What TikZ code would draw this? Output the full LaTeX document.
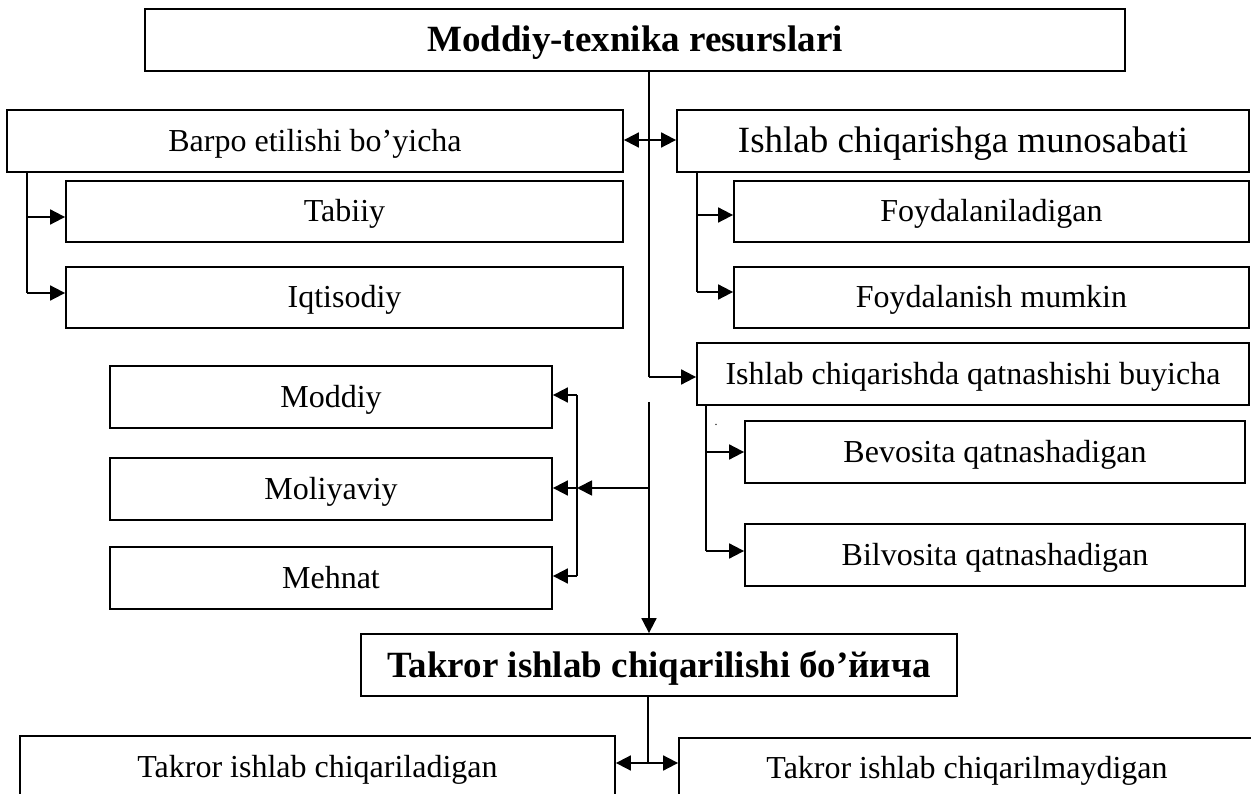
\documentclass[tikz,border=0pt]{standalone}
\usepackage{fontspec}
\setmainfont{Liberation Serif}
\usetikzlibrary{arrows.meta}
\tikzset{
  box/.style={draw, line width=1.8pt, rectangle, inner sep=0pt, text height=21pt, text depth=0pt, font=\fontsize{32}{38}\selectfont},
  bigbox/.style={box, text height=24pt, font=\fontsize{37}{44}\selectfont},
  boldbox/.style={box, text height=24pt, font=\fontsize{37}{44}\selectfont\bfseries},
  conn/.style={line width=1.8pt},
  arr/.style={line width=1.8pt, -{Triangle[length=15pt,width=15pt]}},
  arrtwo/.style={line width=1.8pt, {Triangle[length=15pt,width=15pt]}-{Triangle[length=15pt,width=15pt]}}
}
\begin{document}
\begin{tikzpicture}[x=1pt,y=-1pt]
\useasboundingbox (0,0) rectangle (1251,794);
\clip (0,0) rectangle (1251,794);
% boxes
\node[boldbox, minimum width=980pt, minimum height=62pt] (top) at (635,40) {Moddiy-texnika resurslari};
\node[box, minimum width=616pt, minimum height=62pt] (barpo) at (315,141) {Barpo etilishi bo’yicha};
\node[bigbox, minimum width=572pt, minimum height=62pt] (munos) at (963,141) {Ishlab chiqarishga munosabati};
\node[box, minimum width=557pt, minimum height=61pt] (tab) at (344.5,211.5) {Tabiiy};
\node[box, minimum width=557pt, minimum height=61pt] (iqt) at (344.5,297.5) {Iqtisodiy};
\node[box, minimum width=515pt, minimum height=61pt] (foydA) at (991.5,211.5) {Foydalaniladigan};
\node[box, minimum width=515pt, minimum height=61pt] (foydB) at (991.5,297.5) {Foydalanish mumkin};
\node[box, minimum width=552pt, minimum height=62pt] (ichq) at (973,374) {Ishlab chiqarishda qatnashishi buyicha};
\node[box, minimum width=442pt, minimum height=62pt] (moddiy) at (331,397) {Moddiy};
\node[box, minimum width=442pt, minimum height=62pt] (moliy) at (331,489) {Moliyaviy};
\node[box, minimum width=442pt, minimum height=62pt] (mehnat) at (331,578) {Mehnat};
\node[box, minimum width=500pt, minimum height=62pt] (bevos) at (995,452) {Bevosita qatnashadigan};
\node[box, minimum width=500pt, minimum height=62pt] (bilvos) at (995,555) {Bilvosita qatnashadigan};
\node[boldbox, minimum width=596pt, minimum height=62pt] (tk) at (659,665) {Takror ishlab chiqarilishi бо’йича};
\node[box, minimum width=595pt, minimum height=62pt] (tkl) at (317.5,767) {Takror ishlab chiqariladigan};
\node[box, minimum width=576pt, minimum height=60pt] (tkr) at (967,768) {Takror ishlab chiqarilmaydigan};
\node[font=\fontsize{12}{14}\selectfont, inner sep=0pt, anchor=base] (dot) at (716,425) {.};
% junction coordinates
\coordinate (jR) at (649,140);
\coordinate (jC) at (649,377);
\coordinate (jG) at (649,402);
\coordinate (jL) at (649,488);
\coordinate (bA) at (27,217);
\coordinate (bB) at (27,293);
\coordinate (mA) at (697,215);
\coordinate (mB) at (697,292);
\coordinate (LA) at (577,395);
\coordinate (LB) at (577,488);
\coordinate (LC) at (577,576);
\coordinate (qA) at (706,452);
\coordinate (qB) at (706,551);
\coordinate (bt) at (648,763);
% trunk
\draw[conn] (top.south -| jR) -- (jC);
\draw[arr] (jG) -- (tk.north -| jG);
\draw[arrtwo] (barpo.east |- jR) -- (munos.west |- jR);
\draw[arr] (jC) -- (jC -| ichq.west);
% left branch (Barpo)
\draw[conn] (barpo.south -| bA) -- (bB);
\draw[arr] (bA) -- (bA -| tab.west);
\draw[arr] (bB) -- (bB -| iqt.west);
% right branch (munosabati)
\draw[conn] (munos.south -| mA) -- (mB);
\draw[arr] (mA) -- (mA -| foydA.west);
\draw[arr] (mB) -- (mB -| foydB.west);
% left bracket
\draw[conn] (LA) -- (LC);
\draw[arr] (LA) -- (LA -| moddiy.east);
\draw[arr] (LB) -- (LB -| moliy.east);
\draw[arr] (LC) -- (LC -| mehnat.east);
\draw[arr] (jL) -- (LB);
% qatnashishi branch
\draw[conn] (ichq.south -| qA) -- (qB);
\draw[arr] (qA) -- (qA -| bevos.west);
\draw[arr] (qB) -- (qB -| bilvos.west);
% bottom
\draw[conn] (tk.south -| bt) -- (bt);
\draw[arrtwo] (bt -| tkl.east) -- (bt -| tkr.west);
\end{tikzpicture}
\end{document}
